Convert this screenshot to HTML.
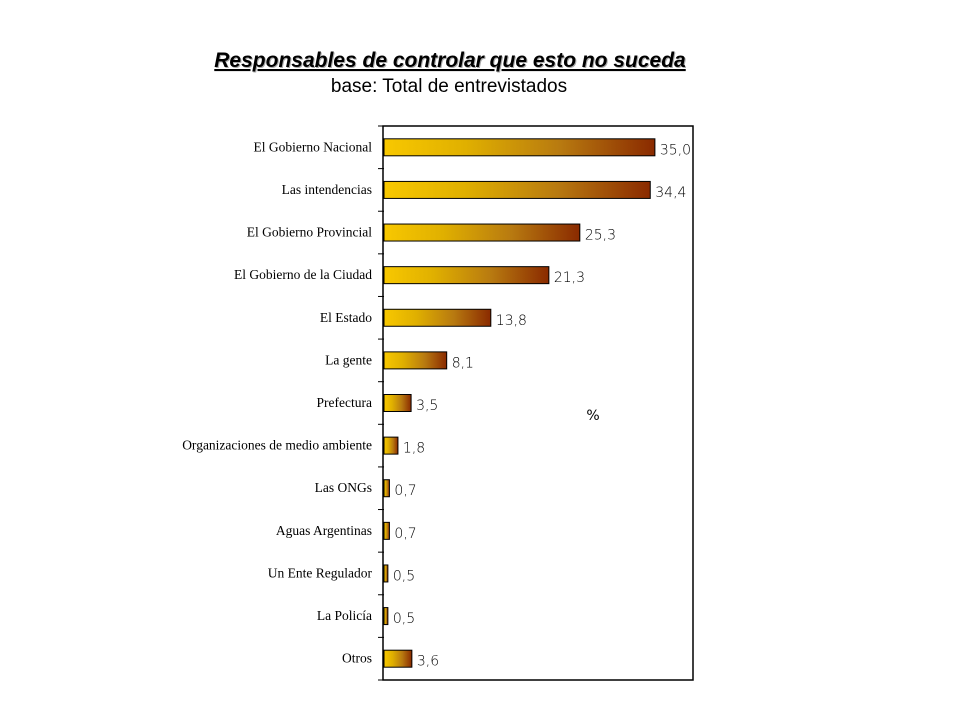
<!DOCTYPE html>
<html><head><meta charset="utf-8"><style>
body{margin:0;background:#fff;width:960px;height:720px;overflow:hidden}
</style></head><body>
<svg width="960" height="720" xmlns="http://www.w3.org/2000/svg">
<defs><linearGradient id="g" x1="0" x2="1" y1="0" y2="0">
<stop offset="0" stop-color="#f8c800"/><stop offset="0.3" stop-color="#e0b000"/><stop offset="0.65" stop-color="#b87a10"/><stop offset="1" stop-color="#8a2a00"/></linearGradient></defs>
<text x="451" y="68" text-anchor="middle" fill="#aaa" font-family="Liberation Sans, sans-serif" font-size="21" font-weight="bold" font-style="italic">Responsables de controlar que esto no suceda</text>
<text x="450" y="67" text-anchor="middle" font-family="Liberation Sans, sans-serif" font-size="21" font-weight="bold" font-style="italic" text-decoration="underline">Responsables de controlar que esto no suceda</text>
<text x="449" y="92" text-anchor="middle" font-family="Liberation Sans, sans-serif" font-size="19">base: Total de entrevistados</text>
<rect x="383" y="126" width="310" height="554" fill="none" stroke="#000" stroke-width="1.5"/>
<text x="593" y="420" text-anchor="middle" font-family="DejaVu Sans, sans-serif" font-size="14">%</text>
<g id="bars"></g>
</svg>
<script>
const categories=["El Gobierno Nacional","Las intendencias","El Gobierno Provincial","El Gobierno de la Ciudad","El Estado","La gente","Prefectura","Organizaciones de medio ambiente","Las ONGs","Aguas Argentinas","Un Ente Regulador","La Policía","Otros"];
const values=[35.0,34.4,25.3,21.3,13.8,8.1,3.5,1.8,0.7,0.7,0.5,0.5,3.6];
const valueLabels=["35,0","34,4","25,3","21,3","13,8","8,1","3,5","1,8","0,7","0,7","0,5","0,5","3,6"];
const x0=384,pxPer=7.74,plotTop=126,band=554/categories.length,bh=17;
const xs=v=>x0+v*pxPer;
const gEl=document.getElementById('bars');const NS="http://www.w3.org/2000/svg";
function mk(t,a){const e=document.createElementNS(NS,t);for(const k in a)e.setAttribute(k,a[k]);gEl.appendChild(e);return e;}
for(let i=0;i<=categories.length;i++){
 const y=plotTop+i*band;
 const t=mk('line',{x1:378,x2:384,y1:y,y2:y,stroke:'#000'});
 
 
}
categories.forEach((c,i)=>{
 const cy=plotTop+band*(i+0.5);
 const r=mk('rect',{x:x0,y:cy-bh/2,width:xs(values[i])-x0,height:bh,fill:'url(#g)',stroke:'#000','stroke-width':1});
 
 
 const l=mk('text',{x:372,y:cy+4,'text-anchor':'end','font-family':'Liberation Serif, serif','font-size':13.5});
 l.textContent=c;
 
 
 const v=mk('text',{x:xs(values[i])+5,y:cy+7,'font-family':'DejaVu Sans, sans-serif','font-size':14,'font-weight':'300'});
 v.textContent=valueLabels[i];
 
 
});
</script>
</body></html>
